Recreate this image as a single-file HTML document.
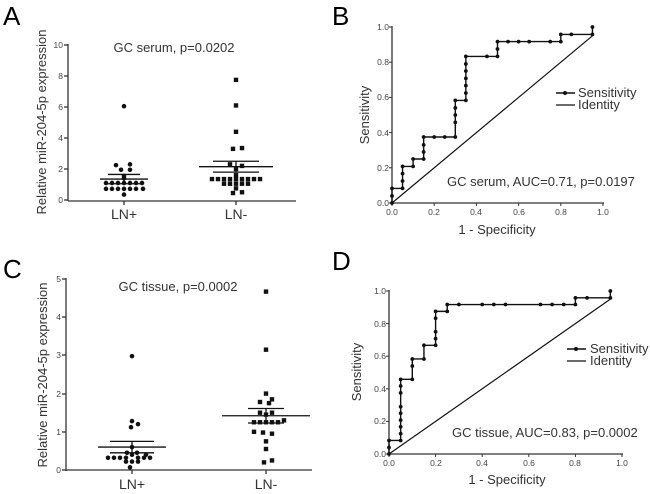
<!DOCTYPE html>
<html><head><meta charset="utf-8"><style>
html,body{margin:0;padding:0;background:#fff;}
svg{display:block;font-family:"Liberation Sans",Arial,sans-serif;}
.t{font-size:8.5px;fill:#444;}
.lab{font-size:13px;fill:#333;}
.ln{font-size:14px;fill:#333;}
.big{font-size:26px;fill:#000;}
</style></head><body>
<svg id="s" width="650" height="494" viewBox="0 0 650 494" xmlns="http://www.w3.org/2000/svg">
<rect width="650" height="494" fill="#fff"/>
<text class="big" x="3" y="25">A</text>
<text class="big" x="332" y="25">B</text>
<text class="big" x="3" y="278">C</text>
<text class="big" x="332" y="270">D</text>

<g stroke="#333" stroke-width="1.3" fill="none">
<line x1="68" y1="44" x2="68" y2="201"/>
<line x1="68" y1="201" x2="296" y2="201"/>
<line x1="64" y1="45" x2="68" y2="45"/><line x1="64" y1="76" x2="68" y2="76"/><line x1="64" y1="107" x2="68" y2="107"/><line x1="64" y1="138" x2="68" y2="138"/><line x1="64" y1="169" x2="68" y2="169"/><line x1="64" y1="200" x2="68" y2="200"/>
<line x1="124" y1="201" x2="124" y2="205"/><line x1="236" y1="201" x2="236" y2="205"/>
</g>
<g class="t" text-anchor="end">
<text x="63" y="48">10</text><text x="63" y="79">8</text><text x="63" y="110">6</text><text x="63" y="141">4</text><text x="63" y="172">2</text><text x="63" y="203">0</text>
</g>
<text class="ln" x="124" y="219" text-anchor="middle">LN+</text>
<text class="ln" x="236" y="219" text-anchor="middle">LN-</text>
<text class="lab" x="174" y="52" text-anchor="middle">GC serum, p=0.0202</text>
<text class="lab" transform="translate(46,122) rotate(-90)" text-anchor="middle">Relative miR-204-5p expression</text>

<g stroke="#333" stroke-width="1.3" fill="none">
<line x1="66" y1="278" x2="66" y2="471"/>
<line x1="66" y1="470" x2="312" y2="470"/>
<line x1="62" y1="279" x2="66" y2="279"/><line x1="62" y1="317" x2="66" y2="317"/><line x1="62" y1="355" x2="66" y2="355"/><line x1="62" y1="394" x2="66" y2="394"/><line x1="62" y1="432" x2="66" y2="432"/><line x1="62" y1="470" x2="66" y2="470"/>
<line x1="132" y1="470" x2="132" y2="474"/><line x1="266" y1="470" x2="266" y2="474"/>
</g>
<g class="t" text-anchor="end">
<text x="61" y="282">5</text><text x="61" y="320">4</text><text x="61" y="358">3</text><text x="61" y="397">2</text><text x="61" y="435">1</text><text x="61" y="473">0</text>
</g>
<text class="ln" x="132" y="489" text-anchor="middle">LN+</text>
<text class="ln" x="266" y="489" text-anchor="middle">LN-</text>
<text class="lab" x="178" y="291" text-anchor="middle">GC tissue, p=0.0002</text>
<text class="lab" transform="translate(47,375) rotate(-90)" text-anchor="middle">Relative miR-204-5p expression</text>

<g stroke="#333" stroke-width="1.3" fill="none">
<line x1="392" y1="26" x2="392" y2="204"/>
<line x1="391" y1="203" x2="604" y2="203"/>
</g>
<g class="t" text-anchor="end">
<text x="389" y="30">1.0</text><text x="389" y="65">0.8</text><text x="389" y="100">0.6</text><text x="389" y="136">0.4</text><text x="389" y="171">0.2</text><text x="389" y="206">0.0</text>
</g>
<g class="t" text-anchor="middle">
<text x="392" y="215">0.0</text><text x="434" y="215">0.2</text><text x="476" y="215">0.4</text><text x="519" y="215">0.6</text><text x="561" y="215">0.8</text><text x="603" y="215">1.0</text>
</g>
<text class="lab" x="497" y="234" text-anchor="middle">1 - Specificity</text>
<text class="lab" transform="translate(369,115) rotate(-90)" text-anchor="middle">Sensitivity</text>
<text class="lab" x="447" y="186">GC serum, AUC=0.71, p=0.0197</text>
<line x1="556" y1="93" x2="575" y2="93" stroke="#111" stroke-width="1.5"/><circle cx="565" cy="93" r="2" fill="#111"/>
<line x1="556" y1="105" x2="575" y2="105" stroke="#111" stroke-width="1.3"/>
<text class="lab" x="578" y="97">Sensitivity</text>
<text class="lab" x="578" y="109">Identity</text>

<g stroke="#333" stroke-width="1.3" fill="none">
<line x1="389" y1="290" x2="389" y2="455"/>
<line x1="388" y1="454" x2="623" y2="454"/>
</g>
<g class="t" text-anchor="end">
<text x="386" y="294">1.0</text><text x="386" y="327">0.8</text><text x="386" y="359">0.6</text><text x="386" y="392">0.4</text><text x="386" y="424">0.2</text><text x="386" y="457">0.0</text>
</g>
<g class="t" text-anchor="middle">
<text x="389" y="466">0.0</text><text x="436" y="466">0.2</text><text x="482" y="466">0.4</text><text x="529" y="466">0.6</text><text x="575" y="466">0.8</text><text x="622" y="466">1.0</text>
</g>
<text class="lab" x="507" y="484" text-anchor="middle">1 - Specificity</text>
<text class="lab" transform="translate(361,372) rotate(-90)" text-anchor="middle">Sensitivity</text>
<text class="lab" x="452" y="437">GC tissue, AUC=0.83, p=0.0002</text>
<line x1="567" y1="349" x2="586" y2="349" stroke="#111" stroke-width="1.5"/><circle cx="576" cy="349" r="2" fill="#111"/>
<line x1="567" y1="361" x2="586" y2="361" stroke="#111" stroke-width="1.3"/>
<text class="lab" x="590" y="353">Sensitivity</text>
<text class="lab" x="590" y="365">Identity</text>

<g id="dyn"></g>
</svg>
<script>
var NS="http://www.w3.org/2000/svg",g=document.getElementById("dyn");
function el(n,a){var e=document.createElementNS(NS,n);for(var k in a)e.setAttribute(k,a[k]);g.appendChild(e);return e;}
function roc(pts,x0,x1,y0,y1){
 var X=function(v){return x0+v*(x1-x0)},Y=function(v){return y0+v*(y1-y0)};
 for(var i=0;i<=5;i++){var v=i*0.2;el("line",{x1:x0-3,x2:x0,y1:Y(v),y2:Y(v),stroke:"#333"});el("line",{x1:X(v),x2:X(v),y1:y0,y2:y0+3,stroke:"#333"});}
 el("line",{x1:X(0),y1:Y(0),x2:X(0.95),y2:Y(0.95),stroke:"#111","stroke-width":1.2});
 el("polyline",{points:pts.map(function(p){return X(p[0])+","+Y(p[1])}).join(" "),fill:"none",stroke:"#111","stroke-width":1.4});
 pts.forEach(function(p){el("circle",{cx:X(p[0]),cy:Y(p[1]),r:1.9,fill:"#111"});});
}
roc([[0,0],[0,.04],[0,.083],[.05,.083],[.05,.125],[.05,.167],[.05,.208],[.1,.208],[.1,.25],[.15,.25],[.15,.29],[.15,.33],[.15,.375],[.2,.375],[.25,.375],[.3,.375],[.3,.458],[.3,.5],[.3,.54],[.3,.583],[.35,.583],[.35,.625],[.35,.667],[.35,.708],[.35,.75],[.35,.79],[.35,.833],[.45,.833],[.5,.833],[.5,.875],[.5,.917],[.55,.917],[.6,.917],[.65,.917],[.75,.917],[.8,.917],[.8,.958],[.85,.958],[.95,.958],[.95,1]],392,603,203,27);
roc([[0,0],[0,.04],[0,.083],[.05,.083],[.05,.125],[.05,.167],[.05,.208],[.05,.25],[.05,.29],[.05,.375],[.05,.417],[.05,.458],[.1,.458],[.1,.54],[.1,.583],[.15,.583],[.15,.667],[.2,.667],[.2,.708],[.2,.75],[.2,.833],[.2,.875],[.25,.875],[.25,.917],[.3,.917],[.4,.917],[.45,.917],[.5,.917],[.65,.917],[.7,.917],[.75,.917],[.8,.917],[.8,.958],[.85,.958],[.95,.958],[.95,1]],389,622,454,291);
function scat(pts,cx,y0,s,sq){pts.forEach(function(p){var x=cx+p[0],y=y0-p[1]*s;
 if(sq)el("rect",{x:x-2.2,y:y-2.2,width:4.4,height:4.4,fill:"#111"});else el("circle",{cx:x,cy:y,r:2.3,fill:"#111"});});}
function bars(cx,y0,s,m,lo,hi,w1,w2){
 el("line",{x1:cx-w1,x2:cx+w1,y1:y0-m*s,y2:y0-m*s,stroke:"#111","stroke-width":1.3});
 el("line",{x1:cx-w2,x2:cx+w2,y1:y0-lo*s,y2:y0-lo*s,stroke:"#111","stroke-width":1.3});
 el("line",{x1:cx-w2,x2:cx+w2,y1:y0-hi*s,y2:y0-hi*s,stroke:"#111","stroke-width":1.3});
 el("line",{x1:cx,x2:cx,y1:y0-lo*s,y2:y0-hi*s,stroke:"#111","stroke-width":1.3});}
var A1=[[0,6.05],[-8,2.25],[6,2.3],[-3,1.95],[6,1.95],[0,1.55],[0,1.4],[-18,1.1],[-12,1.1],[-6,1.1],[0,1.1],[6,1.1],[12,1.1],[18,1.1],[-18,0.72],[-12,0.72],[-6,0.72],[0,0.72],[6,0.72],[12,0.72],[19,0.72],[0,0.35]];
scat(A1,124,200,15.5,false);bars(124,200,15.5,1.35,1.05,1.65,24,16);
var A2=[[0,7.75],[0,6.1],[0,4.4],[-3,3.3],[6,3.35],[-6,2.3],[6,2.2],[0,2.0],[0,1.6],[-24,1.35],[-18,1.35],[-12,1.35],[-6,1.35],[0,1.35],[6,1.35],[12,1.35],[18,1.35],[24,1.35],[-12,1.05],[-6,1.05],[0,1.05],[6,1.05],[12,1.05],[0,0.75],[-3,0.45],[6,0.5]];
scat(A2,236,200,15.5,true);bars(236,200,15.5,2.15,1.8,2.5,37,23);
var C1=[[0,2.98],[0,1.28],[6,1.2],[-1,1.12],[-5,0.45],[5,0.45],[0,0.4],[14,0.4],[-24,0.32],[-18,0.32],[-12,0.32],[-6,0.32],[6,0.32],[12,0.32],[18,0.32],[-6,0.22],[0,0.22],[6,0.22],[-2,0.07],[0,0.6]];
scat(C1,132,470,38.2,false);bars(132,470,38.2,0.6,0.45,0.75,34,22);
var C2=[[0,4.67],[0,3.15],[0,2.0],[6,1.85],[-6,1.78],[3,1.75],[-6,1.5],[6,1.5],[0,1.45],[18,1.3],[-12,1.25],[-6,1.25],[0,1.25],[6,1.25],[12,1.25],[-12,1.0],[-3,0.98],[6,0.95],[0,0.75],[0,0.55],[-2,0.2],[6,0.25]];
scat(C2,266,470,38.2,true);bars(266,470,38.2,1.42,1.23,1.61,44,18);
</script>
</body></html>
